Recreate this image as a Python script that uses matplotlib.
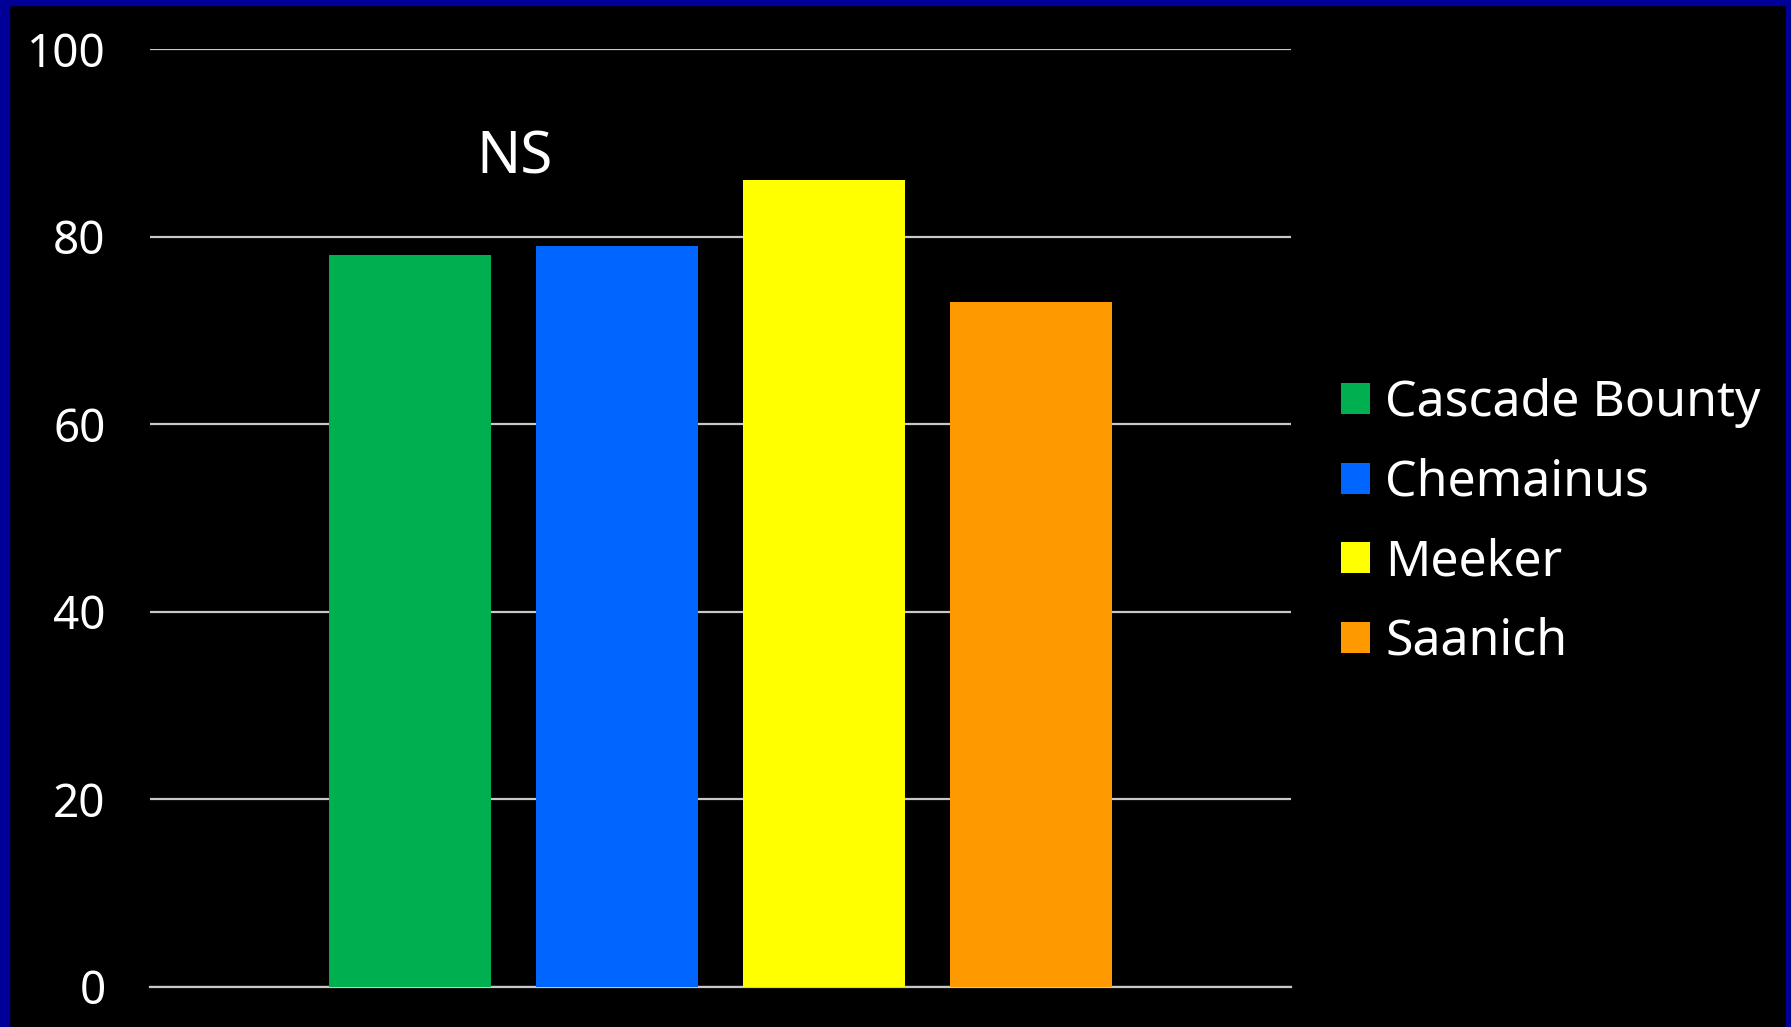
import matplotlib.pyplot as plt
from matplotlib.patches import Rectangle

# Datos
varieties = ['Cascade Bounty', 'Chemainus', 'Meeker', 'Saanich']
values = [78, 79, 86, 73]
colors = ['#00B050', '#0066FF', '#FFFF00', '#FF9900']
y_ticks = [0, 20, 40, 60, 80, 100]

W, H = 1791, 1027
fig = plt.figure(figsize=(W / 100, H / 100), dpi=100, facecolor='black')
ax = fig.add_axes([150 / W, 1 - 987 / H, 1141 / W, 938 / H], facecolor='black')

font = 'Noto Sans'

ax.set_axisbelow(True)
ax.grid(axis='y', color='#C8C8C8', linewidth=1.6)
for i, (v, c, name) in enumerate(zip(values, colors, varieties)):
    ax.bar(i, v, width=0.78, color=c, label=name, zorder=3)

ax.set_xlim(-1.256, 4.256)
ax.set_ylim(0, 100)
ax.set_yticks(y_ticks)
ax.set_yticklabels([str(t) for t in y_ticks], color='white', fontsize=33, family=font)
ax.tick_params(axis='y', length=0, pad=32)
ax.set_xticks([])
for s in ['top', 'right', 'left']:
    ax.spines[s].set_visible(False)
ax.spines['bottom'].set_color('#C8C8C8')
ax.spines['bottom'].set_linewidth(1.6)

ax.text(0.505, 86.7, 'NS', color='white', fontsize=42, ha='center', va='baseline', family=font)

leg = ax.legend(loc='center left', bbox_to_anchor=(1.0438, 0.495), frameon=False,
                handlelength=0.58, handleheight=0.58, handletextpad=0.3,
                labelspacing=0.59, borderaxespad=0, borderpad=0,
                prop={'family': font, 'size': 36})
for t in leg.get_texts():
    t.set_color('white')

# Borde azul
fig.patches.append(Rectangle((0, 0), 9 / W, 1, transform=fig.transFigure, color='#000099'))
fig.patches.append(Rectangle((0, 1 - 5 / H), 1, 5 / H, transform=fig.transFigure, color='#000099'))
fig.patches.append(Rectangle((1 - 5 / W, 0), 5 / W, 1, transform=fig.transFigure, color='#000099'))

fig.savefig('out.png', dpi=100, facecolor='black')
